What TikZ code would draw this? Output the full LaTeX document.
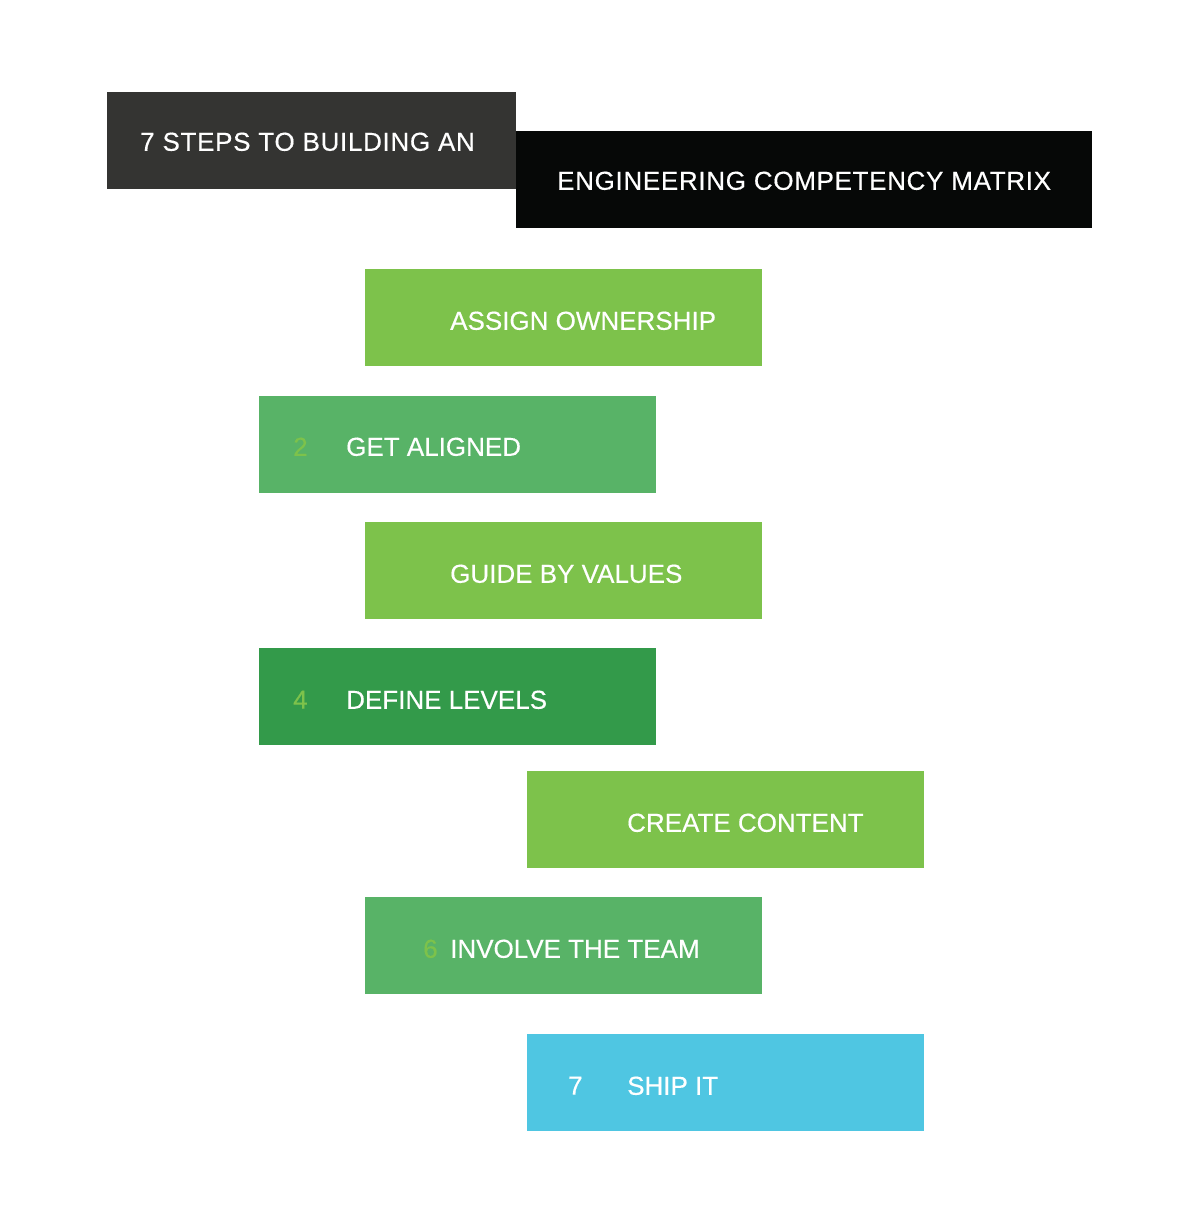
\documentclass[tikz,border=0pt]{standalone}
\usepackage{fontspec}
\setmainfont{Liberation Sans}[FakeBold=0.4]
\newfontfamily\titlefont{Liberation Sans}[FakeBold=0.4, LetterSpace=2.6]
\usetikzlibrary{positioning}

\definecolor{titlegray}{HTML}{343432}
\definecolor{titleblack}{HTML}{060807}
\definecolor{limegreen}{HTML}{7DC24B}
\definecolor{midgreen}{HTML}{58B367}
\definecolor{darkgreen}{HTML}{339A4A}
\definecolor{skyblue}{HTML}{4FC6E2}

\begin{document}
\begin{tikzpicture}[
x=1pt, y=-1pt,
font=\fontsize{26}{30}\selectfont,
stepbox/.style={
    rectangle, draw=none, inner sep=0pt,
    minimum width=397pt, minimum height=97pt, anchor=north west},
titlebox/.style={stepbox, minimum width=#1},
steptext/.style={text=white, inner sep=0pt, text depth=0pt, anchor=west},
titletext/.style={steptext, font=\fontsize{26}{30}\selectfont\titlefont},
stepnum/.style={steptext, text=limegreen},
]

\useasboundingbox (0,0) rectangle (1200,1228);

% title
\node[titlebox=409pt, fill=titlegray] (T1) at (107,92) {};
\node[titlebox=576pt, fill=titleblack] (T2) at (516,131) {};
\node[titletext] (T1t) at ([xshift=33pt, yshift=-1pt]T1.west) {7 STEPS TO BUILDING AN};
\node[titletext] (T2t) at ([xshift=41pt, yshift=-1pt]T2.west) {ENGINEERING COMPETENCY MATRIX};

% steps
\node[stepbox, fill=limegreen] (S1) at (365,269) {};
\node[steptext] (S1t) at ([xshift=85pt, yshift=-3pt]S1.west) {ASSIGN OWNERSHIP};

\node[stepbox, fill=midgreen] (S2) at (259,396) {};
\node[stepnum] (S2n) at ([xshift=34pt, yshift=-2pt]S2.west) {2};
\node[steptext] (S2t) at ([xshift=87pt, yshift=-2pt]S2.west) {GET ALIGNED};

\node[stepbox, fill=limegreen] (S3) at (365,522) {};
\node[steptext] (S3t) at ([xshift=85pt, yshift=-3pt]S3.west) {GUIDE BY VALUES};

\node[stepbox, fill=darkgreen] (S4) at (259,648) {};
\node[stepnum] (S4n) at ([xshift=34pt, yshift=-3pt]S4.west) {4};
\node[steptext] (S4t) at ([xshift=87pt, yshift=-3pt]S4.west) {DEFINE LEVELS};

\node[stepbox, fill=limegreen] (S5) at (527,771) {};
\node[steptext] (S5t) at ([xshift=100pt, yshift=-3pt]S5.west) {CREATE CONTENT};

\node[stepbox, fill=midgreen] (S6) at (365,897) {};
\node[stepnum] (S6n) at ([xshift=58pt, yshift=-3pt]S6.west) {6};
\node[steptext] (S6t) at ([xshift=85pt, yshift=-3pt]S6.west) {INVOLVE THE TEAM};

\node[stepbox, fill=skyblue] (S7) at (527,1034) {};
\node[steptext] (S7n) at ([xshift=41pt, yshift=-3pt]S7.west) {7};
\node[steptext] (S7t) at ([xshift=100pt, yshift=-3pt]S7.west) {SHIP IT};

\end{tikzpicture}
\end{document}
